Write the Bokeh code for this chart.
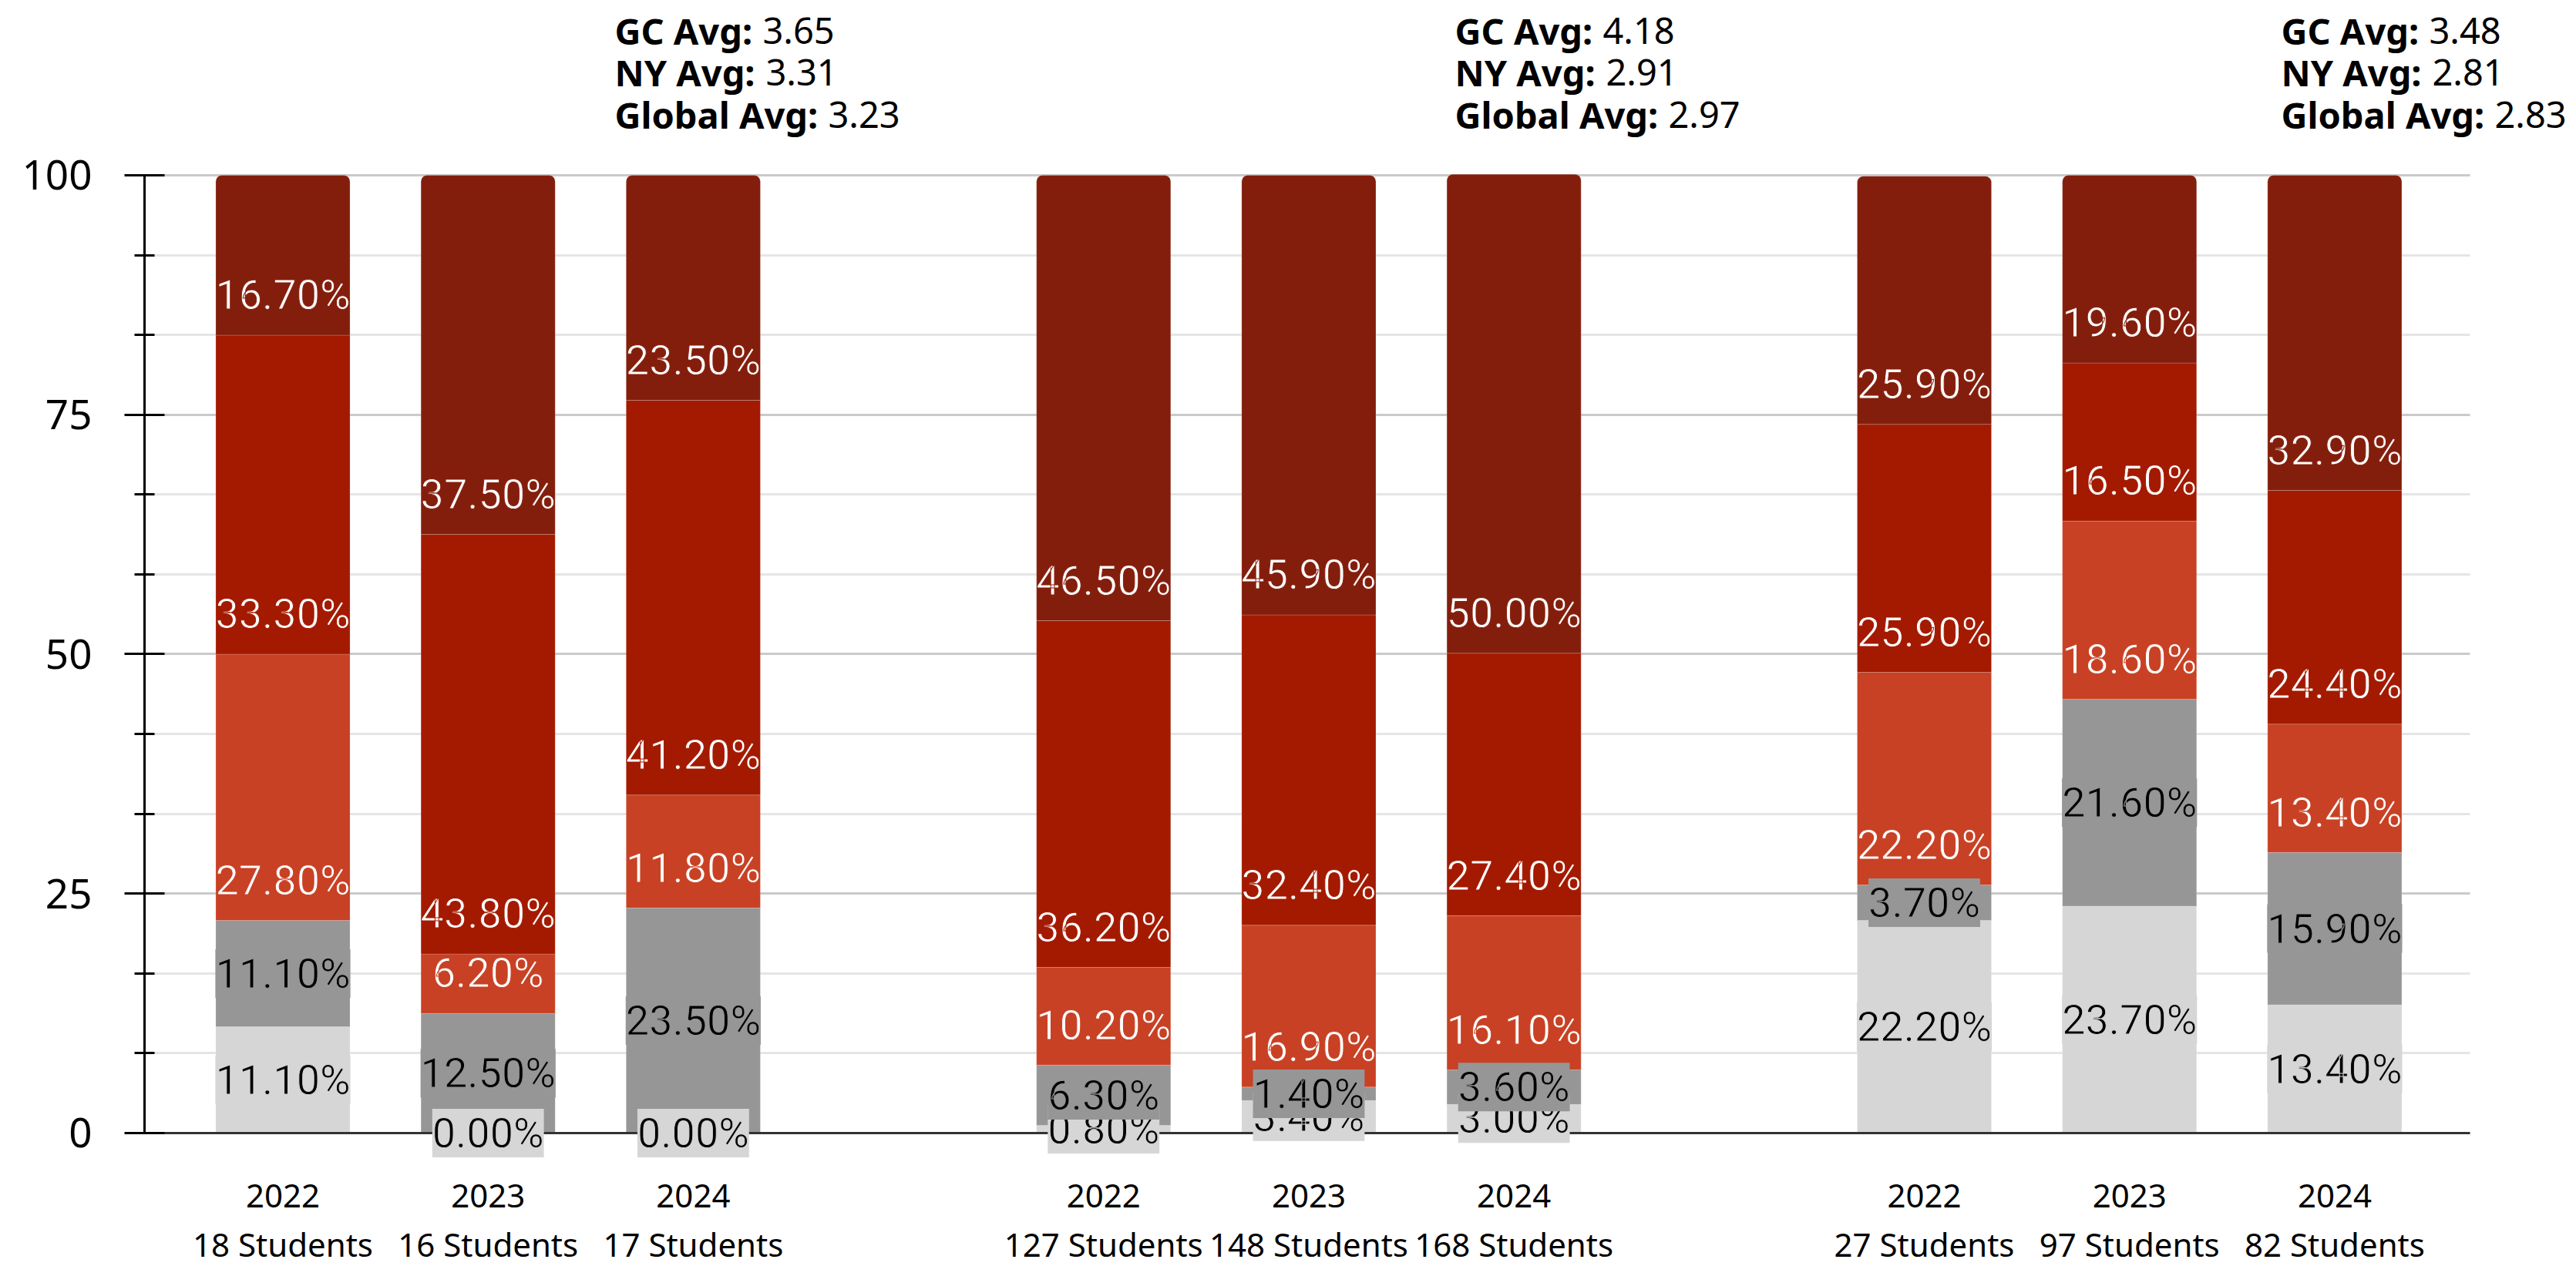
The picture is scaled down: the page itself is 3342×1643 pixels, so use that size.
from bokeh.plotting import figure
from bokeh.models import ColumnDataSource, Range1d, FixedTicker, LabelSet, Label, Grid
from bokeh.core.properties import value
from bokeh.embed import file_html
from bokeh.resources import INLINE

# ---------------- data ----------------
years = ["2022", "2023", "2024", "2022", "2023", "2024", "2022", "2023", "2024"]
students = [18, 16, 17, 127, 148, 168, 27, 97, 82]
group_index = [0, 0, 0, 1, 1, 1, 2, 2, 2]

# stacked shares (%), bottom to top
level1 = [11.1, 0.0, 0.0, 0.8, 3.4, 3.0, 22.2, 23.7, 13.4]      # light grey
level2 = [11.1, 12.5, 23.5, 6.3, 1.4, 3.6, 3.7, 21.6, 15.9]     # mid grey
level3 = [27.8, 6.2, 11.8, 10.2, 16.9, 16.1, 22.2, 18.6, 13.4]  # orange red
level4 = [33.3, 43.8, 41.2, 36.2, 32.4, 27.4, 25.9, 16.5, 24.4] # red
level5 = [16.7, 37.5, 23.5, 46.5, 45.9, 50.0, 25.9, 19.6, 32.9] # dark red

gc_avg = [3.65, 4.18, 3.48]
ny_avg = [3.31, 2.91, 2.81]
global_avg = [3.23, 2.97, 2.83]

y_ticks = [0, 25, 50, 75, 100]

# ---------------- styles ----------------
series = [level1, level2, level3, level4, level5]
fill_colors = ["#d6d6d6", "#969696", "#c84124", "#a31a00", "#841e0c"]
text_colors = ["black", "black", "white", "white", "white"]
centered = [True, True, False, False, False]
LABEL_LIFT = 4.2

X0, X_AXIS_END, X1 = -0.6743, 10.659, 11.178
Y0, Y1 = -13.92, 118.26

# slot positions: three bars per group, one empty slot between groups
pos = [g * 4 + (i % 3) for i, g in enumerate(group_index)]

p = figure(width=3342, height=1643,
           x_range=Range1d(X0, X1), y_range=Range1d(Y0, Y1),
           output_backend="svg", toolbar_location=None,
           min_border_left=187, min_border_right=0,
           min_border_top=0, min_border_bottom=0)
p.outline_line_color = None
p.background_fill_color = "white"
p.border_fill_color = "white"

# ---------------- grid ----------------
minor = [25 / 3 * k for k in range(13) if k % 3]
yt = FixedTicker(ticks=y_ticks, minor_ticks=minor)
p.xgrid.visible = False
if "cross_bounds" in Grid.properties():
    p.ygrid.ticker = yt
    p.ygrid.cross_bounds = (X0, X_AXIS_END)
    p.ygrid.grid_line_color = "#cacaca"
    p.ygrid.grid_line_width = 3
    p.ygrid.minor_grid_line_color = "#e5e5e5"
    p.ygrid.minor_grid_line_width = 3
else:
    p.ygrid.visible = False
    p.segment(x0=X0, x1=X_AXIS_END, y0=minor, y1=minor, line_color="#e5e5e5", line_width=3)
    p.segment(x0=X0, x1=X_AXIS_END, y0=y_ticks, y1=y_ticks, line_color="#cacaca", line_width=3)

# ---------------- bars ----------------
bottom = [0.0] * len(pos)
label_sets = []
for k, vals in enumerate(series):
    top = [b + v for b, v in zip(bottom, vals)]
    src = ColumnDataSource(dict(x=pos, bottom=bottom, top=top))
    kw = {}
    if k == len(series) - 1:
        kw["border_radius"] = (8, 8, 0, 0)
    p.vbar(x="x", bottom="bottom", top="top", width=0.654, source=src,
           fill_color=fill_colors[k], line_color="white", line_alpha=0.18,
           line_width=1, **kw)
    ly = [b + v / 2 if centered[k] else b + LABEL_LIFT for b, v in zip(bottom, vals)]
    lsrc = ColumnDataSource(dict(x=pos, y=ly, t=[f"{v:.2f}%" for v in vals]))
    lkw = dict(background_fill_color=fill_colors[k]) if centered[k] else {}
    label_sets.append(LabelSet(x="x", y="y", text="t", source=lsrc,
                               text_align="center", text_baseline="middle",
                               text_font=value("Roboto"), text_font_size="54px",
                               text_color=text_colors[k],
                               text_outline_color=fill_colors[k], **lkw))
    bottom = top
for ls in label_sets:
    p.add_layout(ls)

# ---------------- averages above each group ----------------
line_y = [115.05, 110.7, 106.35]
names = ["GC Avg:", "NY Avg:", "Global Avg:"]
offsets = [192, 196, 277]
group_shift = [-0.383, -0.288, -0.261]
for g in range(3):
    x0 = g * 4 + 2 + group_shift[g]
    vals = [gc_avg[g], ny_avg[g], global_avg[g]]
    for name, v, yy, off in zip(names, vals, line_y, offsets):
        p.add_layout(Label(x=x0, y=yy, text=name, text_font="Noto Sans",
                           text_font_style="bold", text_font_size="47px",
                           text_color="black", text_baseline="alphabetic"))
        p.add_layout(Label(x=x0, y=yy, x_offset=off, text=f"{v:.2f}",
                           text_font="Noto Sans", text_font_size="47px",
                           text_color="black", text_baseline="alphabetic"))

# ---------------- axes ----------------
p.yaxis.ticker = yt
p.yaxis.bounds = (0, 100)
p.yaxis.axis_line_color = "black"
p.yaxis.axis_line_width = 3
p.yaxis.major_tick_line_color = "black"
p.yaxis.major_tick_line_width = 3
p.yaxis.major_tick_in = 26
p.yaxis.major_tick_out = 26
p.yaxis.minor_tick_line_color = "black"
p.yaxis.minor_tick_line_width = 3
p.yaxis.minor_tick_in = 13
p.yaxis.minor_tick_out = 13
p.yaxis.major_label_text_font = "Noto Sans"
p.yaxis.major_label_text_font_size = "53px"
p.yaxis.major_label_text_color = "black"
p.yaxis.major_label_standoff = 42

p.xaxis.ticker = FixedTicker(ticks=pos)
p.xaxis.fixed_location = 0
p.xaxis.bounds = (X0, X_AXIS_END)
p.xaxis.major_label_overrides = {x: f"{y}\n{s} Students" for x, y, s in zip(pos, years, students)}
p.xaxis.axis_line_color = "#333333"
p.xaxis.axis_line_width = 3
p.xaxis.major_tick_line_color = None
p.xaxis.minor_tick_line_color = None
p.xaxis.major_label_text_font = "Noto Sans"
p.xaxis.major_label_text_font_size = "42px"
p.xaxis.major_label_text_color = "black"
p.xaxis.major_label_text_line_height = 1.12
p.xaxis.major_label_standoff = 46

open("out.html", "w").write(file_html(p, INLINE))
